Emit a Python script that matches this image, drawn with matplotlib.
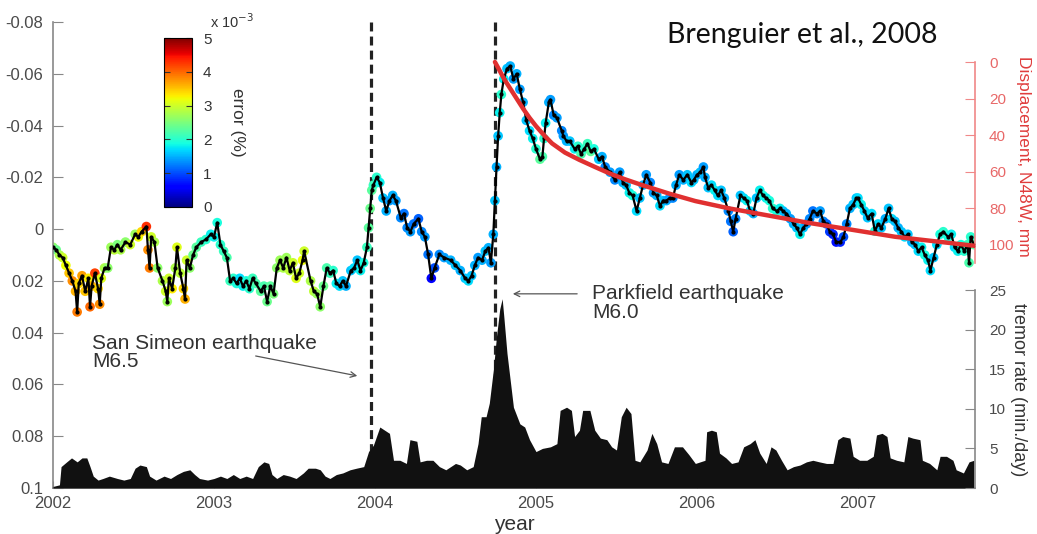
import numpy as np
import matplotlib
matplotlib.use("Agg")
import matplotlib.pyplot as plt

plt.rcParams['font.family'] = ['Liberation Sans', 'DejaVu Sans']

# dv/v time series: (decimal year, dv/v, error x1e-3 %)
dv_pts = [
    (2002.00, 0.007, 2.6), (2002.02, 0.008, 2.4), (2002.04, 0.010, 2.8), (2002.06, 0.011, 3.0),
    (2002.08, 0.014, 3.2), (2002.10, 0.017, 3.5), (2002.12, 0.020, 3.8), (2002.14, 0.024, 3.6),
    (2002.15, 0.032, 3.9), (2002.16, 0.021, 3.4), (2002.18, 0.018, 3.7), (2002.20, 0.024, 3.5),
    (2002.22, 0.019, 3.3), (2002.23, 0.030, 4.0), (2002.24, 0.022, 3.6), (2002.26, 0.017, 4.2),
    (2002.28, 0.023, 3.4), (2002.29, 0.029, 3.8), (2002.30, 0.019, 3.1), (2002.32, 0.015, 2.8),
    (2002.34, 0.015, 2.6), (2002.36, 0.007, 2.7), (2002.38, 0.008, 2.9), (2002.40, 0.006, 2.5),
    (2002.42, 0.008, 2.8), (2002.45, 0.005, 2.6), (2002.48, 0.006, 3.0), (2002.51, 0.002, 2.7),
    (2002.53, 0.003, 3.2), (2002.55, 0.001, 3.4), (2002.58, -0.001, 4.3), (2002.59, 0.008, 3.8),
    (2002.60, 0.015, 3.9), (2002.61, 0.003, 3.0), (2002.63, 0.005, 2.8), (2002.65, 0.015, 2.6),
    (2002.68, 0.020, 2.8), (2002.70, 0.024, 3.0), (2002.71, 0.028, 2.7), (2002.72, 0.019, 3.0),
    (2002.74, 0.023, 3.3), (2002.76, 0.015, 2.8), (2002.77, 0.007, 3.1), (2002.79, 0.017, 2.9),
    (2002.81, 0.023, 3.4), (2002.82, 0.027, 3.6), (2002.83, 0.012, 3.0), (2002.85, 0.015, 2.6),
    (2002.87, 0.010, 2.4), (2002.89, 0.007, 2.3), (2002.92, 0.005, 2.1), (2002.95, 0.004, 2.0),
    (2002.98, 0.002, 1.8),
    (2003.00, 0.003, 1.8), (2003.02, -0.0025, 1.9), (2003.04, 0.006, 2.0), (2003.06, 0.0085, 2.1),
    (2003.08, 0.011, 2.2), (2003.10, 0.020, 2.1), (2003.12, 0.019, 2.0), (2003.14, 0.021, 1.9),
    (2003.16, 0.019, 1.7), (2003.18, 0.022, 1.8), (2003.20, 0.020, 1.9), (2003.22, 0.023, 2.0),
    (2003.24, 0.019, 2.1), (2003.26, 0.021, 2.2), (2003.29, 0.024, 2.3), (2003.31, 0.022, 2.2),
    (2003.33, 0.028, 2.4), (2003.35, 0.022, 2.3), (2003.37, 0.025, 2.5), (2003.39, 0.015, 2.6),
    (2003.41, 0.012, 2.7), (2003.43, 0.015, 2.8), (2003.45, 0.011, 2.7), (2003.47, 0.016, 2.9),
    (2003.49, 0.013, 3.0), (2003.51, 0.019, 3.1), (2003.53, 0.017, 3.0), (2003.55, 0.012, 3.2),
    (2003.56, 0.0085, 3.0), (2003.60, 0.020, 2.8), (2003.62, 0.024, 2.9), (2003.64, 0.025, 2.7),
    (2003.66, 0.030, 2.6), (2003.68, 0.022, 2.4), (2003.70, 0.015, 2.2), (2003.72, 0.017, 2.1),
    (2003.74, 0.016, 2.0), (2003.76, 0.021, 1.8), (2003.78, 0.022, 1.7), (2003.80, 0.020, 1.6),
    (2003.82, 0.022, 1.5), (2003.85, 0.016, 1.6), (2003.87, 0.015, 1.7), (2003.89, 0.012, 1.6),
    (2003.91, 0.016, 1.8), (2003.93, 0.013, 1.9), (2003.95, 0.007, 2.1), (2003.96, -0.0005, 2.3),
    (2003.97, -0.008, 2.4), (2003.98, -0.015, 2.3),
    (2003.99, -0.017, 2.1), (2004.01, -0.020, 2.0), (2004.03, -0.018, 1.8), (2004.05, -0.012, 1.6),
    (2004.07, -0.007, 1.5), (2004.09, -0.011, 1.4), (2004.11, -0.013, 1.5), (2004.13, -0.011, 1.4),
    (2004.16, -0.0044, 1.3), (2004.18, -0.006, 1.2), (2004.20, -0.0005, 1.3), (2004.22, 0.001, 1.4),
    (2004.24, -0.002, 1.2), (2004.27, -0.004, 1.1), (2004.29, 0.001, 1.3), (2004.31, 0.003, 1.4),
    (2004.33, 0.0098, 1.2), (2004.35, 0.019, 0.6), (2004.37, 0.015, 1.0), (2004.40, 0.0098, 1.3),
    (2004.43, 0.011, 1.4), (2004.47, 0.012, 1.5), (2004.50, 0.014, 1.6), (2004.53, 0.016, 1.5),
    (2004.56, 0.019, 1.6), (2004.58, 0.020, 1.7), (2004.60, 0.018, 1.6), (2004.62, 0.014, 1.5),
    (2004.64, 0.011, 1.4), (2004.665, 0.012, 1.5), (2004.685, 0.0085, 1.6), (2004.705, 0.0072, 1.5),
    (2004.72, 0.013, 1.4), (2004.735, 0.002, 1.5), (2004.745, -0.011, 1.6), (2004.755, -0.024, 1.5),
    (2004.765, -0.036, 1.6), (2004.775, -0.045, 1.8), (2004.785, -0.052, 2.0), (2004.80, -0.058, 1.8),
    (2004.82, -0.062, 1.6), (2004.84, -0.063, 1.5), (2004.86, -0.058, 1.4), (2004.88, -0.060, 1.5),
    (2004.90, -0.054, 1.4), (2004.92, -0.049, 1.5), (2004.94, -0.042, 1.6), (2004.96, -0.038, 1.7),
    (2004.98, -0.035, 1.8),
    (2005.00, -0.031, 2.0), (2005.025, -0.027, 2.3), (2005.04, -0.028, 2.2), (2005.05, -0.035, 2.0),
    (2005.06, -0.041, 1.8), (2005.08, -0.049, 1.5), (2005.09, -0.050, 1.4), (2005.11, -0.044, 1.3),
    (2005.13, -0.043, 1.4), (2005.16, -0.038, 1.3), (2005.17, -0.036, 1.4), (2005.19, -0.034, 1.5),
    (2005.21, -0.034, 1.6), (2005.24, -0.031, 1.8), (2005.26, -0.032, 2.0), (2005.28, -0.029, 2.2),
    (2005.30, -0.031, 2.0), (2005.32, -0.033, 2.1), (2005.34, -0.030, 2.3), (2005.36, -0.031, 1.9),
    (2005.39, -0.027, 1.6), (2005.41, -0.028, 1.5), (2005.43, -0.024, 1.3), (2005.46, -0.022, 1.4),
    (2005.49, -0.019, 1.3), (2005.52, -0.022, 1.4), (2005.54, -0.018, 1.5), (2005.56, -0.017, 1.6),
    (2005.58, -0.014, 1.8), (2005.60, -0.013, 1.9), (2005.625, -0.007, 1.7), (2005.645, -0.012, 1.6),
    (2005.665, -0.017, 1.5), (2005.685, -0.021, 1.4), (2005.71, -0.018, 1.3), (2005.73, -0.014, 1.4),
    (2005.75, -0.013, 1.5), (2005.77, -0.009, 1.7), (2005.79, -0.011, 1.6), (2005.81, -0.011, 1.5),
    (2005.83, -0.012, 1.4), (2005.85, -0.012, 1.3), (2005.87, -0.017, 1.5), (2005.89, -0.021, 1.4),
    (2005.915, -0.019, 1.5), (2005.94, -0.021, 1.6), (2005.965, -0.018, 1.7),
    (2005.98, -0.019, 1.6), (2006.00, -0.021, 1.5), (2006.02, -0.022, 1.6), (2006.04, -0.024, 1.4),
    (2006.05, -0.020, 1.5), (2006.07, -0.016, 1.6), (2006.09, -0.017, 1.7), (2006.11, -0.015, 1.8),
    (2006.13, -0.013, 1.7), (2006.15, -0.015, 1.6), (2006.17, -0.012, 1.5), (2006.195, -0.007, 1.3),
    (2006.21, -0.003, 1.2), (2006.225, 0.001, 1.1), (2006.24, -0.004, 1.3), (2006.27, -0.013, 1.6),
    (2006.29, -0.012, 1.7), (2006.31, -0.011, 1.8), (2006.33, -0.007, 1.7), (2006.35, -0.006, 1.5),
    (2006.37, -0.012, 1.6), (2006.39, -0.015, 1.8), (2006.41, -0.013, 1.9), (2006.43, -0.012, 1.8),
    (2006.45, -0.011, 1.9), (2006.47, -0.008, 2.0), (2006.495, -0.007, 1.9), (2006.515, -0.008, 1.8),
    (2006.535, -0.007, 1.6), (2006.555, -0.006, 1.5), (2006.58, -0.004, 1.4), (2006.60, -0.002, 1.5),
    (2006.62, -0.0005, 1.6), (2006.64, 0.002, 1.8), (2006.66, -0.0005, 1.6), (2006.68, -0.002, 1.4),
    (2006.70, -0.004, 1.3), (2006.72, -0.007, 1.2), (2006.745, -0.006, 1.3), (2006.765, -0.007, 1.4),
    (2006.785, -0.003, 1.3), (2006.805, -0.002, 1.1), (2006.825, 0.001, 0.9), (2006.845, 0.002, 0.8),
    (2006.865, 0.005, 0.7), (2006.89, 0.005, 0.8), (2006.91, 0.003, 1.0), (2006.93, -0.002, 1.3),
    (2006.95, -0.008, 1.5), (2006.97, -0.0095, 1.6),
    (2006.99, -0.012, 1.6), (2007.00, -0.012, 1.7), (2007.02, -0.0095, 1.8), (2007.04, -0.007, 1.7),
    (2007.06, -0.0044, 1.6), (2007.085, -0.006, 1.7), (2007.105, 0.0008, 1.9), (2007.125, -0.002, 1.7),
    (2007.145, -0.0005, 1.6), (2007.17, -0.004, 1.5), (2007.19, -0.008, 1.6), (2007.21, -0.004, 1.7),
    (2007.23, -0.003, 1.6), (2007.25, -0.0005, 1.5), (2007.27, 0.001, 1.6), (2007.29, 0.003, 1.7),
    (2007.31, 0.002, 1.6), (2007.335, 0.005, 1.5), (2007.355, 0.006, 1.6), (2007.375, 0.0085, 1.7),
    (2007.395, 0.007, 1.8), (2007.415, 0.010, 1.9), (2007.435, 0.012, 1.8), (2007.45, 0.016, 1.7),
    (2007.47, 0.011, 1.6), (2007.49, 0.006, 1.7), (2007.51, 0.002, 1.9), (2007.53, 0.001, 2.0),
    (2007.56, 0.003, 1.9), (2007.58, 0.002, 1.8), (2007.60, 0.007, 1.7), (2007.62, 0.0085, 1.8),
    (2007.64, 0.006, 1.9), (2007.66, 0.0085, 2.0), (2007.68, 0.006, 2.1), (2007.69, 0.013, 2.2),
    (2007.70, 0.003, 2.0), (2007.72, 0.006, 2.3),
]
dv_year = np.array([p[0] for p in dv_pts])
dv_val = np.array([p[1] for p in dv_pts])
dv_err = np.array([p[2] for p in dv_pts])

# tremor rate (min./day)
tremor_year = [2002.00, 2002.04, 2002.05, 2002.085, 2002.115, 2002.15, 2002.18, 2002.21, 2002.23, 2002.25,
               2002.28, 2002.31, 2002.35, 2002.40, 2002.44, 2002.48, 2002.51, 2002.54, 2002.58, 2002.60,
               2002.64, 2002.69, 2002.73, 2002.77, 2002.81, 2002.85, 2002.88, 2002.91, 2002.96, 2003.00,
               2003.04, 2003.08, 2003.12, 2003.16, 2003.20, 2003.24, 2003.275, 2003.31, 2003.34, 2003.36,
               2003.39, 2003.43, 2003.47, 2003.51, 2003.555, 2003.585, 2003.63, 2003.66, 2003.69, 2003.72,
               2003.76, 2003.80, 2003.845, 2003.885, 2003.93, 2003.96, 2003.99, 2004.03, 2004.06, 2004.09,
               2004.115, 2004.155, 2004.195, 2004.217, 2004.26, 2004.28, 2004.32, 2004.36, 2004.40, 2004.44,
               2004.50, 2004.53, 2004.57, 2004.61, 2004.64, 2004.66, 2004.69, 2004.71, 2004.735, 2004.755,
               2004.775, 2004.79, 2004.80, 2004.82, 2004.84, 2004.86, 2004.90, 2004.93, 2004.96, 2005.00,
               2005.04, 2005.09, 2005.13, 2005.15, 2005.19, 2005.22, 2005.24, 2005.27, 2005.29, 2005.335,
               2005.365, 2005.40, 2005.44, 2005.47, 2005.50, 2005.53, 2005.56, 2005.59, 2005.615, 2005.645,
               2005.69, 2005.72, 2005.75, 2005.78, 2005.82, 2005.86, 2005.91, 2005.95, 2005.99, 2006.05,
               2006.06, 2006.09, 2006.12, 2006.14, 2006.18, 2006.215, 2006.255, 2006.29, 2006.33, 2006.36,
               2006.39, 2006.43, 2006.46, 2006.49, 2006.525, 2006.56, 2006.60, 2006.64, 2006.68, 2006.72,
               2006.76, 2006.805, 2006.845, 2006.875, 2006.905, 2006.95, 2006.97, 2007.01, 2007.055, 2007.095,
               2007.115, 2007.15, 2007.18, 2007.20, 2007.24, 2007.285, 2007.31, 2007.34, 2007.385, 2007.40,
               2007.445, 2007.49, 2007.51, 2007.55, 2007.59, 2007.61, 2007.655, 2007.69, 2007.72]
tremor_rate = [0.2, 0.4, 2.7, 3.3, 3.8, 3.3, 3.8, 3.8, 2.7, 1.5,
               1.0, 1.2, 1.5, 1.2, 1.0, 1.2, 2.5, 2.9, 2.7, 1.5,
               1.0, 1.5, 1.2, 1.7, 2.1, 2.3, 1.7, 1.2, 1.0, 1.2,
               1.5, 1.2, 1.7, 1.2, 1.5, 1.2, 2.7, 3.3, 3.1, 1.7,
               1.2, 1.7, 1.5, 1.2, 1.9, 2.5, 2.5, 2.3, 1.5, 1.2,
               1.7, 1.9, 2.3, 2.5, 2.7, 4.6, 5.4, 7.7, 7.3, 6.9,
               3.5, 3.5, 3.1, 6.1, 5.9, 3.3, 3.5, 3.5, 2.7, 2.3,
               3.1, 2.9, 2.3, 2.7, 5.6, 9.0, 9.0, 10.7, 14.9, 19.2,
               22.6, 23.9, 21.7, 17.0, 13.6, 10.2, 8.1, 7.7, 6.1, 4.6,
               5.0, 5.2, 5.6, 9.8, 10.2, 9.8, 6.5, 7.3, 9.8, 9.8,
               7.3, 6.3, 6.1, 5.2, 4.8, 9.0, 10.2, 9.4, 3.5, 3.3,
               4.8, 6.9, 5.6, 3.3, 3.1, 5.2, 5.2, 4.2, 3.1, 3.5,
               7.1, 7.3, 7.1, 4.4, 3.8, 3.1, 3.3, 5.2, 5.6, 6.1,
               4.4, 3.1, 5.2, 4.8, 3.5, 2.3, 2.7, 2.9, 3.3, 3.5,
               3.3, 3.1, 3.1, 6.1, 6.5, 6.3, 4.0, 3.5, 3.5, 4.0,
               6.7, 6.9, 6.5, 3.8, 3.5, 3.3, 6.5, 6.3, 6.1, 3.5,
               3.1, 2.3, 4.0, 4.0, 3.5, 2.3, 1.9, 3.3, 3.5]

# postseismic displacement, N48W (mm)
disp_year = [2004.745, 2004.77, 2004.80, 2004.84, 2004.88, 2004.92, 2004.96, 2005.00, 2005.05,
             2005.10, 2005.18, 2005.27, 2005.37, 2005.46, 2005.55, 2005.65, 2005.74, 2005.83,
             2005.99, 2006.20, 2006.45, 2006.70, 2006.95, 2007.23, 2007.48, 2007.73]
disp_mm = [0, 4, 9, 14.5, 20, 25.5, 30.5, 35, 40,
           44.5, 49.5, 53.5, 57.5, 61, 64, 67, 69.5, 72,
           76, 80, 84, 88, 91.5, 95.5, 98, 100.5]

quake_year = [2003.975, 2004.745]
year_ticks = [2002, 2003, 2004, 2005, 2006, 2007]

W, H = 1037, 534
fig = plt.figure(figsize=(W / 100, H / 100), dpi=100)
ax = fig.add_axes([53 / W, 46 / H, 922 / W, 466 / H])

gray = '#4a4a4a'
ax.set_xlim(2002, 2007.727)
ax.set_ylim(0.1, -0.08)
for s in ['top', 'right']:
    ax.spines[s].set_visible(False)
for s in ['left', 'bottom']:
    ax.spines[s].set_color('#888888')
    ax.spines[s].set_linewidth(1.2)
ax.set_yticks([-0.08, -0.06, -0.04, -0.02, 0, 0.02, 0.04, 0.06, 0.08, 0.1])
ax.set_yticklabels(['-0.08', '-0.06', '-0.04', '-0.02', '0', '0.02', '0.04', '0.06', '0.08', '0.1'])
ax.set_xticks(year_ticks)
ax.set_xticklabels([str(y) for y in year_ticks])
ax.tick_params(axis='y', direction='in', length=7, color='#888888', labelcolor=gray, labelsize=12, pad=7)
ax.tick_params(axis='x', direction='in', length=5, color='#888888', labelcolor=gray, labelsize=12, pad=6)
ax.set_xlabel('year', fontsize=15, color='#333333', labelpad=3)

# earthquake lines
for q in quake_year:
    ax.plot([q, q], [-0.08, 0.1], color='#222222', lw=2.3, dashes=(2.8, 1.6), zorder=1)

sc = ax.scatter(dv_year, dv_val, c=dv_err, cmap='jet', vmin=0, vmax=5, s=48, edgecolors='none', zorder=2)
ax.plot(dv_year, dv_val, color='k', lw=1.6, marker='.', ms=4, zorder=3)

# tremor axis
ax3 = ax.twinx()
ax3.set_ylim(0, 58.84)
ax3.fill_between(tremor_year, 0, tremor_rate, color='#111111', lw=0)
for s in ['top', 'left', 'bottom']:
    ax3.spines[s].set_visible(False)
ax3.spines['right'].set_bounds(0, 25)
ax3.spines['right'].set_color('#888888')
ax3.spines['right'].set_linewidth(1.2)
ax3.set_yticks([0, 5, 10, 15, 20, 25])
ax3.tick_params(axis='y', direction='in', length=7, color='#888888', labelcolor=gray, labelsize=11, pad=10)

# displacement axis
ax2 = ax.twinx()
ax2.set_ylim(232.8, -21.86)
ax2.plot(disp_year, disp_mm, color='#e03030', lw=3.2, solid_capstyle='round', zorder=5)
for s in ['top', 'left', 'bottom']:
    ax2.spines[s].set_visible(False)
ax2.spines['right'].set_bounds(0, 110)
ax2.spines['right'].set_color('#f08888')
ax2.spines['right'].set_linewidth(1.2)
ax2.set_yticks([0, 20, 40, 60, 80, 100])
ax2.tick_params(axis='y', direction='in', length=7, color='#f08888', labelcolor='#e86868', labelsize=11, pad=10)

fig.text(1023 / W, 1 - 156 / H, 'Displacement, N48W, mm', rotation=270, color='#e03c3c',
         fontsize=12.5, ha='center', va='center')
fig.text(1019 / W, 1 - 390 / H, 'tremor rate (min./day)', rotation=270, color='#333333',
         fontsize=13, ha='center', va='center')

# annotations
ax.annotate('', xy=(2003.907, 0.0569), xytext=(2003.242, 0.0488),
            arrowprops=dict(arrowstyle='->', color='#555555', lw=0.9))
ax.text(2002.242, 0.0477, 'San Simeon earthquake\nM6.5', fontsize=15, color='#333333',
        ha='left', va='center', linespacing=0.95)
ax.annotate('', xy=(2004.839, 0.025), xytext=(2005.273, 0.025),
            arrowprops=dict(arrowstyle='->', color='#555555', lw=0.9))
ax.text(2005.348, 0.0285, 'Parkfield earthquake\nM6.0', fontsize=15, color='#333333',
        ha='left', va='center', linespacing=0.95)

# colorbar
cax = fig.add_axes([164 / W, 1 - 207 / H, 28 / W, 169 / H])
cb = fig.colorbar(sc, cax=cax)
cb.set_ticks([0, 1, 2, 3, 4, 5])
cb.outline.set_linewidth(0.8)
cax.tick_params(direction='in', left=True, right=True, length=4, color='#333333',
                labelcolor='#333333', labelsize=11, pad=8)
fig.text(210 / W, 1 - 22 / H, 'x 10$^{-3}$', fontsize=10.5, color='#333333', ha='left', va='center')
fig.text(238 / W, 1 - 122 / H, 'error (%)', rotation=270, fontsize=12.5, color='#333333',
         ha='center', va='center')

fig.text(667 / W, 1 - 35 / H, 'Brenguier et al., 2008', fontsize=20.5, family='Lato',
         color='#111111', ha='left', va='center')

fig.savefig('out.png', dpi=100)
